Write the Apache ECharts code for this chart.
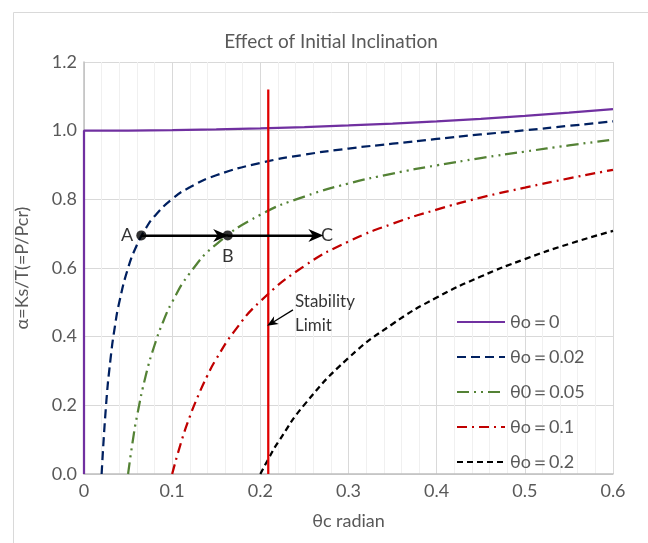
<!DOCTYPE html>
<html>
<head>
<meta charset="utf-8">
<script src="https://cdn.jsdelivr.net/npm/echarts@6/dist/echarts.min.js"></script>
<style>html,body{margin:0;padding:0;background:#fff}#c{width:648px;height:543px}</style>
</head>
<body>
<div id="c"></div>
<script>
// ---- data ----
const seriesNames = ['θo＝0', 'θo＝0.02', 'θ0＝0.05', 'θo＝0.1', 'θo＝0.2'];

const x0 = [0, 0, 0.05, 0.1, 0.15, 0.2, 0.25, 0.3, 0.35, 0.4, 0.45, 0.5, 0.55, 0.6];
const y0 = [0, 1.0, 1.0004, 1.0017, 1.0038, 1.0067, 1.0105, 1.0152, 1.0207, 1.0272, 1.0346, 1.0429, 1.0523, 1.0626];

const x1 = [0.02, 0.025, 0.03, 0.035, 0.04, 0.05, 0.06, 0.07, 0.08, 0.1, 0.12, 0.15, 0.2, 0.25, 0.3, 0.35, 0.4, 0.45, 0.5, 0.55, 0.6];
const y1 = [0, 0.200, 0.333, 0.429, 0.500, 0.600, 0.667, 0.715, 0.751, 0.801, 0.835, 0.870, 0.906, 0.930, 0.948, 0.962, 0.976, 0.989, 1.001, 1.014, 1.027];

const x2 = [0.05, 0.055, 0.06, 0.07, 0.08, 0.09, 0.1, 0.12, 0.15, 0.2, 0.25, 0.3, 0.35, 0.4, 0.45, 0.5, 0.55, 0.6];
const y2 = [0, 0.091, 0.167, 0.286, 0.375, 0.445, 0.501, 0.585, 0.669, 0.755, 0.808, 0.846, 0.875, 0.899, 0.920, 0.939, 0.957, 0.974];

const x3 = [0.1, 0.11, 0.12, 0.13, 0.14, 0.15, 0.17, 0.2, 0.25, 0.3, 0.35, 0.4, 0.45, 0.5, 0.55, 0.6];
const y3 = [0, 0.091, 0.167, 0.231, 0.287, 0.335, 0.414, 0.503, 0.606, 0.677, 0.729, 0.770, 0.805, 0.834, 0.861, 0.886];

const x4 = [0.2, 0.21, 0.22, 0.25, 0.3, 0.35, 0.4, 0.45, 0.5, 0.55, 0.6];
const y4 = [0, 0.048, 0.092, 0.202, 0.338, 0.437, 0.514, 0.575, 0.626, 0.670, 0.708];

const stabilityX = [0.209, 0.209];
const stabilityY = [0, 1.12];

const pointA = [0.065, 0.695];
const pointB = [0.163, 0.695];
const pointC = [0.263, 0.695];

const xTicks = [0, 0.1, 0.2, 0.3, 0.4, 0.5, 0.6];
const yTicks = [0, 0.2, 0.4, 0.6, 0.8, 1.0, 1.2];

// ---- chart ----
const zip = (xs, ys) => xs.map((x, i) => [x, ys[i]]);
const FONT = 'Lato, "Open Sans", sans-serif';
const GREY = '#595959';
const colors = ['#7030A0', '#002060', '#548235', '#C00000', '#000000'];
const dashes = ['solid', [9, 5], [12, 5, 2, 5, 2, 5], [10, 5, 2, 5], [6, 4]];
const xs = [x0, x1, x2, x3, x4];
const ys = [y0, y1, y2, y3, y4];

const arrowPath = 'path://M5,0L10,10L5,7L0,10Z';

const series = seriesNames.map((n, i) => ({
  name: n,
  type: 'line',
  data: zip(xs[i], ys[i]),
  showSymbol: false,
  symbol: 'none',
  smooth: i === 0 ? false : 0.5,
  lineStyle: { color: colors[i], width: 2.25, type: dashes[i] },
  itemStyle: { color: colors[i] },
  z: 3
}));

series.push({
  name: 'stability',
  type: 'line',
  data: zip(stabilityX, stabilityY),
  symbol: 'none',
  lineStyle: { color: '#E00000', width: 2.25 },
  z: 4,
  markLine: {
    silent: true,
    symbol: ['none', arrowPath],
    symbolSize: [9, 11],
    lineStyle: { color: '#000', width: 1.3, type: 'solid' },
    label: { show: false },
    data: [[{ coord: [0.237, 0.478] }, { coord: [0.213, 0.44] }]]
  }
});

series.push({
  name: 'arrows',
  type: 'line',
  data: [pointA, pointC],
  symbol: 'none',
  lineStyle: { color: '#000', width: 2 },
  z: 5,
  markLine: {
    silent: true,
    symbol: ['none', arrowPath],
    symbolSize: [13, 15],
    lineStyle: { color: '#000', width: 2, type: 'solid' },
    label: { show: false },
    data: [
      [{ coord: pointA }, { coord: [pointB[0] - 0.008, pointB[1]] }],
      [{ coord: pointB }, { coord: pointC }]
    ]
  }
});

series.push({
  name: 'dots',
  type: 'scatter',
  symbol: 'circle',
  symbolSize: 10,
  itemStyle: { color: '#000' },
  z: 6,
  data: [
    { value: pointA, label: { show: true, formatter: 'A', position: 'left', distance: 3 } },
    { value: pointB, label: { show: true, formatter: 'B', position: 'bottom', distance: 7 } },
    { value: pointC, symbolSize: 0, label: { show: true, formatter: 'C', position: 'right', distance: 5 } }
  ],
  label: { color: '#000', fontSize: 18, fontFamily: FONT }
});

series.push({
  name: 'note',
  type: 'scatter',
  symbolSize: 0,
  z: 6,
  data: [{ value: [0.237, 0.466], label: { show: true, formatter: 'Stability\nLimit', position: 'right', distance: 2, lineHeight: 24, align: 'left' } }],
  label: { color: '#000', fontSize: 17, fontFamily: FONT }
});

const chart = echarts.init(document.getElementById('c'), null, { renderer: 'canvas' });
chart.setOption({
  animation: false,
  backgroundColor: '#fff',
  textStyle: { fontFamily: FONT },
  title: {
    text: 'Effect of Initial Inclination',
    left: 326, top: 27, textAlign: 'center',
    textStyle: { color: GREY, fontSize: 19, fontWeight: 'normal', fontFamily: FONT }
  },
  graphic: [{
    type: 'rect', left: 11, top: 10,
    shape: { width: 636, height: 540 },
    style: { fill: 'none', stroke: '#D9D9D9', lineWidth: 1 }, silent: true, z: -10
  }],
  legend: {
    data: seriesNames,
    orient: 'vertical',
    left: 451, top: 308,
    itemWidth: 48, itemHeight: 14, itemGap: 17,
    itemStyle: { opacity: 0 },
    textStyle: { color: GREY, fontSize: 18, fontFamily: FONT }
  },
  grid: { left: 84, right: 35, top: 62, bottom: 69, containLabel: false },
  xAxis: {
    type: 'value', min: xTicks[0], max: xTicks[xTicks.length - 1], interval: 0.1,
    name: 'θc radian', nameLocation: 'middle', nameGap: 38,
    nameTextStyle: { color: GREY, fontSize: 18, fontFamily: FONT },
    axisLine: { show: true, onZero: false, lineStyle: { color: '#BFBFBF', width: 1.5 } },
    axisTick: { show: false },
    axisLabel: { color: GREY, fontSize: 18, margin: 8, fontFamily: FONT, formatter: v => String(+v.toFixed(1)) },
    splitLine: { show: true, lineStyle: { color: '#D9D9D9', width: 1 } },
    minorTick: { show: false, splitNumber: 5 },
    minorSplitLine: { show: true, lineStyle: { color: '#F0F0F0', width: 1 } }
  },
  yAxis: {
    type: 'value', min: yTicks[0], max: yTicks[yTicks.length - 1], interval: 0.2,
    name: 'α=Ks/T(=P/Pcr)', nameLocation: 'middle', nameGap: 53, nameRotate: 90,
    nameTextStyle: { color: GREY, fontSize: 18, fontFamily: FONT },
    axisLine: { show: true, onZero: false, lineStyle: { color: '#BFBFBF', width: 1.5 } },
    axisTick: { show: false },
    axisLabel: { color: GREY, fontSize: 18, margin: 7, fontFamily: FONT, formatter: v => v.toFixed(1) },
    splitLine: { show: true, lineStyle: { color: '#D9D9D9', width: 1 } }
  },
  series: series
});
</script>
</body>
</html>
